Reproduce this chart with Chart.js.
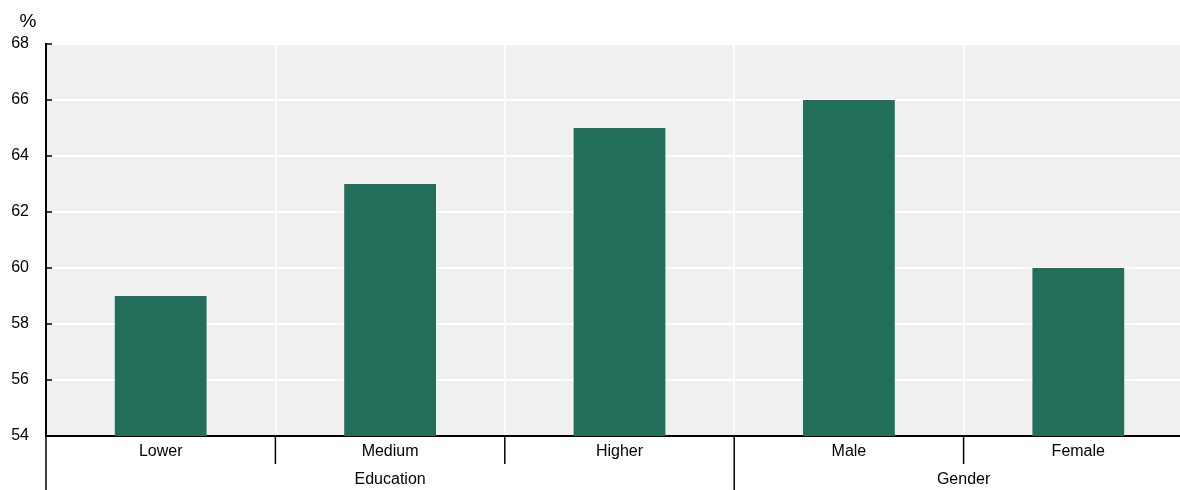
<!DOCTYPE html>
<html>
<head>
<meta charset="utf-8">
<script src="https://cdn.jsdelivr.net/npm/chart.js@4.4.1/dist/chart.umd.min.js"></script>
<style>
  html, body { margin: 0; padding: 0; background: #fff; overflow: hidden; }
  #wrap { position: relative; width: 1193px; height: 490px; }
</style>
</head>
<body>
<div id="wrap"><canvas id="chart" width="1193" height="490"></canvas></div>
<script>
// chart data
const categories = ['Lower', 'Medium', 'Higher', 'Male', 'Female'];
const groups = ['Education', 'Education', 'Education', 'Gender', 'Gender'];
const shares = [59, 63, 65, 66, 60];
const yMin = 54;
const yMax = 68;
const yStep = 2;
const unitLabel = '%';

const barColor = '#216e5a';

// the original uses a narrow face; use it if the narrow Liberation is installed
const probe = document.createElement('canvas').getContext('2d');
probe.font = "20px 'Liberation Sans Narrow', monospace";
const w1 = probe.measureText('Medium Education').width;
probe.font = '20px monospace';
const w2 = probe.measureText('Medium Education').width;
const hasNarrow = Math.abs(w1 - w2) > 1;
const FONT = hasNarrow ? "'Liberation Sans Narrow', 'Liberation Sans', Arial, sans-serif"
                       : "'Liberation Sans', Arial, sans-serif";
const FSIZE = hasNarrow ? 19 : 16;

// draws the inner y ticks, category separators and the group row under the axis
const groupAxis = {
  id: 'groupAxis',
  afterDraw(chart) {
    const ctx = chart.ctx;
    const x = chart.scales.x;
    const y = chart.scales.y;
    const area = chart.chartArea;
    const half = (x.getPixelForValue(1) - x.getPixelForValue(0)) / 2;

    ctx.save();
    ctx.strokeStyle = '#000';

    // small ticks inside the plot on the y axis
    ctx.lineWidth = 1.5;
    y.ticks.forEach((t) => {
      const py = y.getPixelForValue(t.value);
      ctx.beginPath();
      ctx.moveTo(area.left, py);
      ctx.lineTo(area.left + 6, py);
      ctx.stroke();
    });

    // separators between categories, long ones where a group starts
    for (let i = 0; i < categories.length; i++) {
      const px = x.getPixelForValue(i) - half;
      const newGroup = i === 0 || groups[i] !== groups[i - 1];
      ctx.beginPath();
      ctx.moveTo(px, area.bottom);
      ctx.lineTo(px, newGroup ? chart.height : area.bottom + 28);
      ctx.stroke();
    }

    // group labels centred under their categories
    ctx.fillStyle = '#000';
    ctx.font = FSIZE + 'px ' + FONT;
    ctx.textAlign = 'center';
    ctx.textBaseline = 'middle';
    let start = 0;
    for (let i = 1; i <= categories.length; i++) {
      if (i === categories.length || groups[i] !== groups[start]) {
        const left = x.getPixelForValue(start) - half;
        const right = x.getPixelForValue(i - 1) + half;
        ctx.fillText(groups[start], (left + right) / 2, area.bottom + 44);
        start = i;
      }
    }

    // unit above the y axis
    ctx.font = (FSIZE + 3) + 'px ' + FONT;
    ctx.fillText(unitLabel, area.left - 18, area.top - 22);
    ctx.restore();
  }
};

// grey plot background
const plotBg = {
  id: 'plotBg',
  beforeDraw(chart) {
    const a = chart.chartArea;
    chart.ctx.save();
    chart.ctx.fillStyle = '#f0f0f0';
    chart.ctx.fillRect(a.left, a.top, a.right - a.left, a.bottom - a.top);
    chart.ctx.restore();
  }
};

const ctx = document.getElementById('chart').getContext('2d');
new Chart(ctx, {
  type: 'bar',
  data: {
    labels: categories,
    datasets: [{
      data: shares,
      backgroundColor: barColor,
      borderWidth: 0,
      barPercentage: 0.4,
      categoryPercentage: 1
    }]
  },
  options: {
    responsive: false,
    animation: false,
    devicePixelRatio: 1,
    layout: { padding: { top: 44, left: 0, right: 0, bottom: 0 } },
    plugins: { legend: { display: false }, tooltip: { enabled: false } },
    scales: {
      x: {
        offset: true,
        grid: { offset: true, color: '#ffffff', lineWidth: 1.5, drawTicks: false },
        border: { color: '#000', width: 2 },
        ticks: { color: '#000', font: { family: FONT, size: FSIZE }, padding: hasNarrow ? 5 : 6, maxRotation: 0 },
        afterFit(scale) { scale.height = 54; }
      },
      y: {
        min: yMin,
        max: yMax,
        ticks: { stepSize: yStep, color: '#000', font: { family: FONT, size: FSIZE }, padding: 17 },
        grid: { color: '#ffffff', lineWidth: 2, drawTicks: false },
        border: { color: '#000', width: 2 },
        afterFit(scale) { scale.width = 46; }
      }
    }
  },
  plugins: [plotBg, groupAxis]
});
</script>
</body>
</html>
